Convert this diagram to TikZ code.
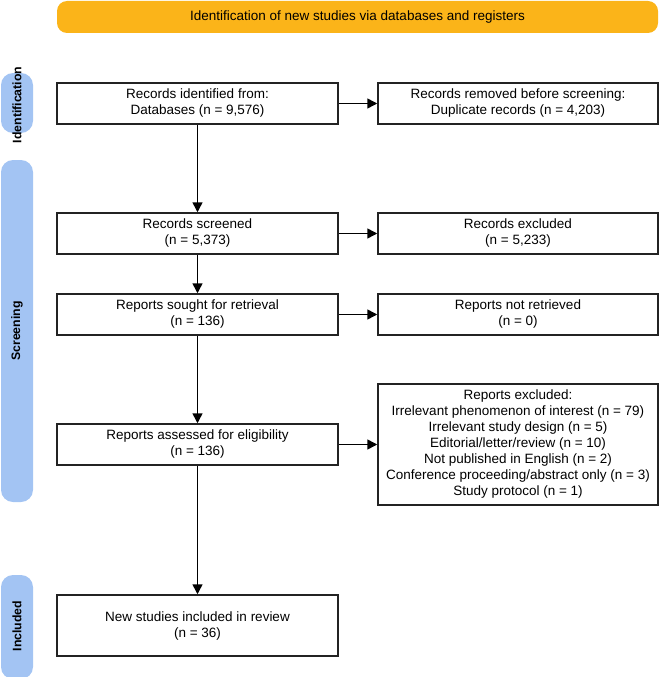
\documentclass[tikz,border=0pt]{standalone}
\usepackage{fontspec}
\setmainfont{Liberation Sans}
\usetikzlibrary{arrows.meta}
\definecolor{prismaorange}{RGB}{251,180,25}
\definecolor{prismablue}{RGB}{163,196,243}
\definecolor{boxline}{RGB}{35,35,35}
\begin{document}
\begin{tikzpicture}[x=1pt,y=-1pt,
  box/.style={draw=boxline, line width=1.5pt, fill=white, align=center, inner sep=2pt,
    font=\fontsize{13.5}{16}\selectfont},
  leftbox/.style={box, minimum width=281pt, minimum height=41pt},
  rightbox/.style={box, minimum width=280pt, minimum height=41pt},
  pill/.style={fill=prismablue, rounded corners=12pt, minimum width=32pt, inner sep=0pt},
  sidelabel/.style={rotate=90, font=\bfseries\fontsize{12.3}{14}\selectfont, inner sep=0pt},
  arr/.style={draw=black, line width=1.5pt, -{Triangle[length=10pt,width=10pt]}}
]
\useasboundingbox (0,0) rectangle (661,677);

% header bar
\node[fill=prismaorange, rounded corners=10pt, minimum width=601pt, minimum height=32pt,
  font=\fontsize{13.5}{16}\selectfont, inner sep=0pt] (head) at (357.5,17)
  {Identification of new studies via databases and registers};

% side pills
\node[pill, minimum height=60pt] (pid) at (17,103) {};
\node[sidelabel] (lid) at (17,105) {Identification};
\node[pill, minimum height=342pt] (pscr) at (17,331) {};
\node[sidelabel] (lscr) at (17,331) {Screening};
\node[pill, minimum height=104pt] (pinc) at (17,627) {};
\node[sidelabel] (linc) at (17,626) {Included};

% boxes
\node[leftbox] (A) at (197.5,103.5) {Records identified from:\\Databases (n = 9,576)};
\node[rightbox] (B) at (518,103.5) {Records removed before screening:\\Duplicate records (n = 4,203)};
\node[leftbox] (C) at (197.5,233.5) {Records screened\\(n = 5,373)};
\node[rightbox] (D) at (518,233.5) {Records excluded\\(n = 5,233)};
\node[leftbox] (E) at (197.5,314.5) {Reports sought for retrieval\\(n = 136)};
\node[rightbox] (F) at (518,314.5) {Reports not retrieved\\(n = 0)};
\node[leftbox] (G) at (197.5,444.5) {Reports assessed for eligibility\\(n = 136)};
\node[rightbox, minimum height=121pt] (H) at (518,444.5) {Reports excluded:\\
  Irrelevant phenomenon of interest (n = 79)\\
  Irrelevant study design (n = 5)\\
  Editorial/letter/review (n = 10)\\
  Not published in English (n = 2)\\
  Conference proceeding/abstract only (n = 3)\\
  Study protocol (n = 1)};
\node[leftbox, minimum height=61pt] (I) at (197.5,625.5) {New studies included in review\\(n = 36)};

% connectors
\draw[arr] (A) -- (B);
\draw[arr] (C) -- (D);
\draw[arr] (E) -- (F);
\draw[arr] (G) -- (H);
\draw[arr] (A) -- (C);
\draw[arr] (C) -- (E);
\draw[arr] (E) -- (G);
\draw[arr] (G) -- (I);
\end{tikzpicture}
\end{document}
